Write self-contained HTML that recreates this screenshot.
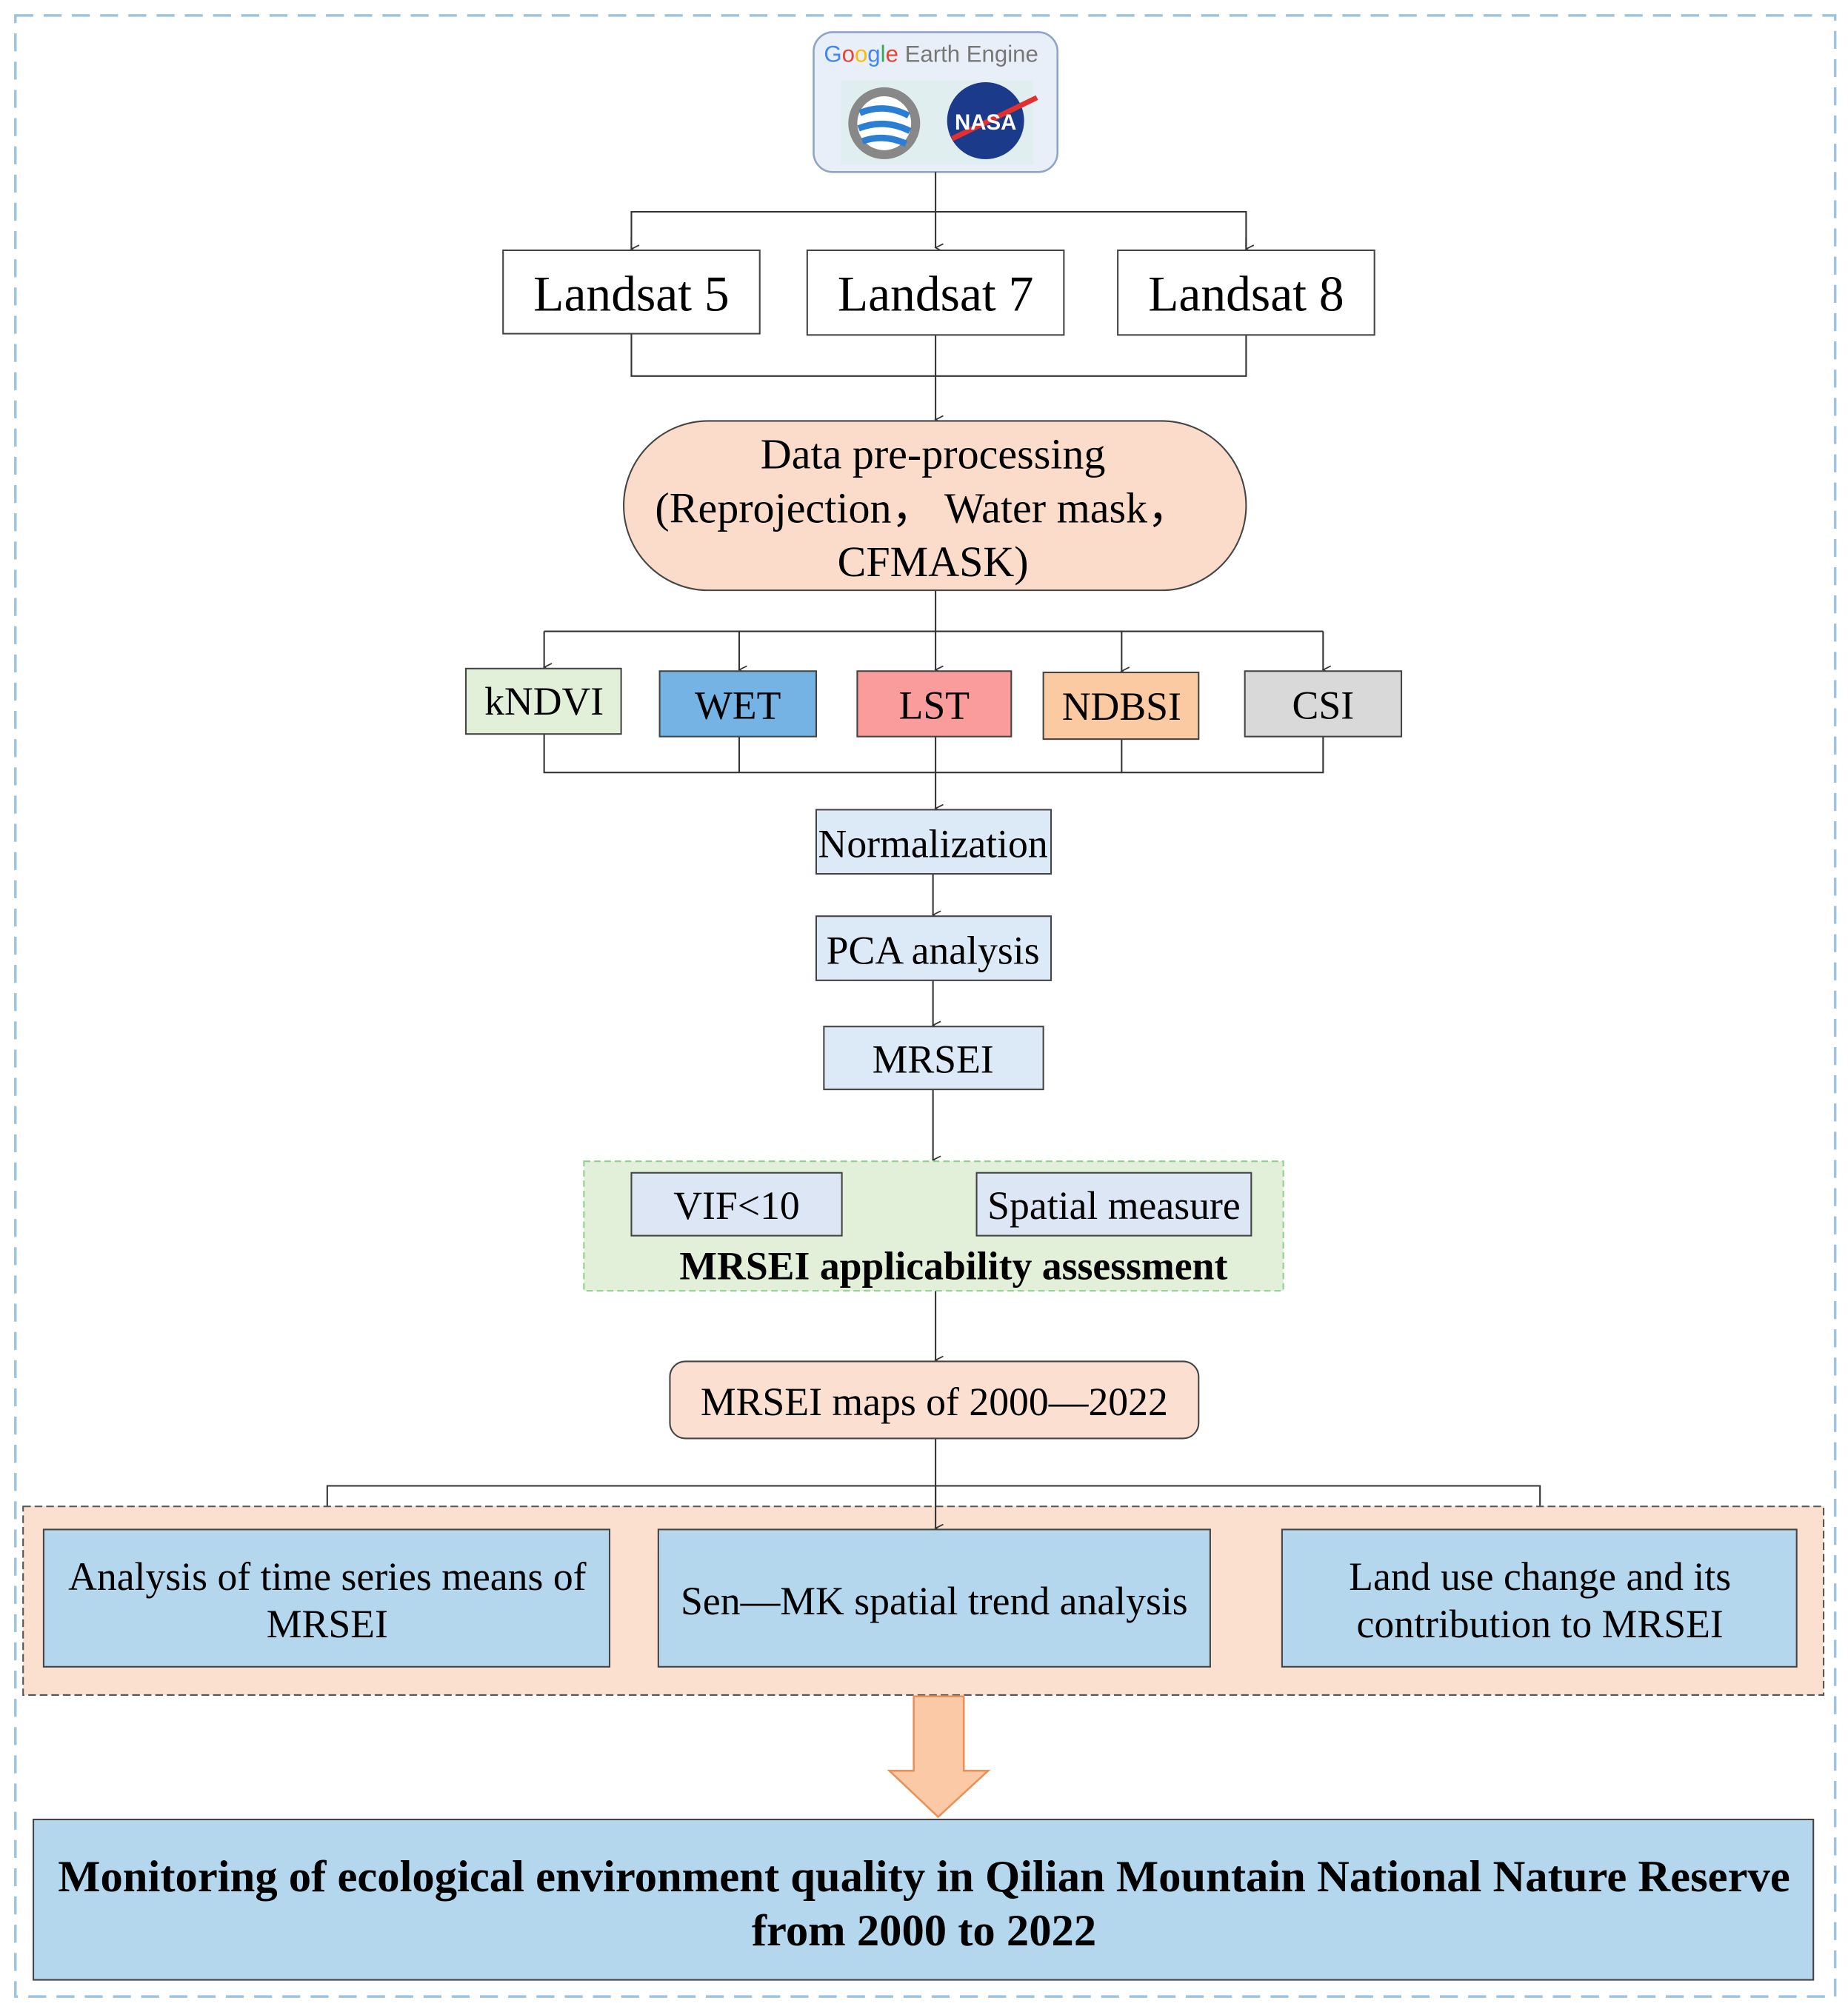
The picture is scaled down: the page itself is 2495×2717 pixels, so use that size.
<!DOCTYPE html>
<html><head><meta charset="utf-8"><style>html,body{margin:0;padding:0;background:#fff}svg{display:block}</style></head>
<body>
<svg width="2495" height="2717" viewBox="0 0 1440 1568" xmlns="http://www.w3.org/2000/svg" font-family="'Liberation Serif', serif">
<defs><marker id="a" markerWidth="8" markerHeight="8" refX="4" refY="7" orient="auto" markerUnits="userSpaceOnUse"><path d="M1,1 L4,7 L7,1" fill="none" stroke="#333" stroke-width="1"/></marker></defs>
<rect x="0" y="0" width="1440" height="1568" fill="#fff"/>
<rect x="12" y="12" width="1418" height="1544" fill="none" stroke="#9cc3e0" stroke-width="2" stroke-dasharray="14,8"/>
<rect x="634" y="25" width="190" height="109" rx="15" fill="#e9eff8" stroke="#8ea6c6" stroke-width="1.5"/>
<rect x="655" y="63" width="150" height="65" fill="#e0eef0"/>
<text x="642" y="48" font-family="'Liberation Sans',sans-serif" font-size="18"><tspan fill="#4285f4">G</tspan><tspan fill="#ea4335">o</tspan><tspan fill="#fbbc05">o</tspan><tspan fill="#4285f4">g</tspan><tspan fill="#34a853">l</tspan><tspan fill="#ea4335">e</tspan><tspan fill="#777"> Earth Engine</tspan></text>
<circle cx="689" cy="96" r="28" fill="#888"/>
<circle cx="689" cy="96" r="21" fill="#fff"/>
<path d="M670,88 Q689,80 708,90 M669,100 Q689,92 709,102 M672,110 Q689,104 706,112" stroke="#2a7fd4" stroke-width="5" fill="none"/>
<circle cx="768" cy="94" r="30" fill="#1b3a8a"/>
<path d="M742,108 L808,76" stroke="#e03030" stroke-width="4"/>
<text x="768" y="101" text-anchor="middle" font-family="'Liberation Sans',sans-serif" font-weight="bold" font-size="17" fill="#fff">NASA</text>
<g stroke="#333" stroke-width="1.2" fill="none">
<line x1="729" y1="134" x2="729" y2="193" marker-end="url(#a)"/>
<polyline points="492,193 492,165 971,165 971,193"/>
<line x1="492" y1="185" x2="492" y2="194" marker-end="url(#a)"/>
<line x1="971" y1="185" x2="971" y2="194" marker-end="url(#a)"/>
<polyline points="492,260 492,293 971,293 971,261"/>
<line x1="729" y1="261" x2="729" y2="327" marker-end="url(#a)"/>
<line x1="729" y1="460" x2="729" y2="492"/>
<line x1="424" y1="492" x2="1031" y2="492"/>
<line x1="424" y1="492" x2="424" y2="520" marker-end="url(#a)"/>
<line x1="576" y1="492" x2="576" y2="522" marker-end="url(#a)"/>
<line x1="729" y1="492" x2="729" y2="522" marker-end="url(#a)"/>
<line x1="874" y1="492" x2="874" y2="523" marker-end="url(#a)"/>
<line x1="1031" y1="492" x2="1031" y2="522" marker-end="url(#a)"/>
<polyline points="424,572 424,602 1031,602 1031,574"/>
<line x1="576" y1="574" x2="576" y2="602"/><line x1="874" y1="576" x2="874" y2="602"/>
<line x1="729" y1="574" x2="729" y2="630" marker-end="url(#a)"/>
<line x1="727" y1="681" x2="727" y2="713" marker-end="url(#a)"/>
<line x1="727" y1="764" x2="727" y2="799" marker-end="url(#a)"/>
<line x1="727" y1="849" x2="727" y2="904" marker-end="url(#a)"/>
<line x1="729" y1="1006" x2="729" y2="1060" marker-end="url(#a)"/>
<line x1="729" y1="1121" x2="729" y2="1191" marker-end="url(#a)"/>
<polyline points="255,1190 255,1158 1200,1158 1200,1190"/>
<line x1="255" y1="1180" x2="255" y2="1191" marker-end="url(#a)"/>
<line x1="1200" y1="1180" x2="1200" y2="1191" marker-end="url(#a)"/>
</g>
<g stroke="#444" stroke-width="1.2">
<rect x="392" y="195" width="200" height="65" fill="#fff"/>
<rect x="629" y="195" width="200" height="66" fill="#fff"/>
<rect x="871" y="195" width="200" height="66" fill="#fff"/>
<rect x="486" y="328" width="485" height="132" rx="66" fill="#fbdccb"/>
<rect x="363" y="521" width="121" height="51" fill="#e2f0d9"/>
<rect x="514" y="523" width="122" height="51" fill="#74b3e3"/>
<rect x="668" y="523" width="120" height="51" fill="#fa9c9c"/>
<rect x="813" y="524" width="121" height="52" fill="#fbc9a2"/>
<rect x="970" y="523" width="122" height="51" fill="#d9d9d9"/>
<rect x="636" y="631" width="183" height="50" fill="#dce9f6"/>
<rect x="636" y="714" width="183" height="50" fill="#dce9f6"/>
<rect x="642" y="800" width="171" height="49" fill="#dce9f6"/>
</g>
<rect x="455" y="905" width="545" height="101" fill="#e2f0d9" stroke="#8fd08f" stroke-width="1.2" stroke-dasharray="5,3"/>
<g stroke="#444" stroke-width="1.2">
<rect x="492" y="914" width="164" height="49" fill="#dce6f5"/>
<rect x="761" y="914" width="214" height="49" fill="#dce6f5"/>
<rect x="522" y="1061" width="412" height="60" rx="12" fill="#fbe0d2"/>
</g>
<rect x="18" y="1174" width="1403" height="147" fill="#fbe0d0" stroke="#555" stroke-width="1.2" stroke-dasharray="6,3"/>
<line x1="729" y1="1158" x2="729" y2="1191" stroke="#333" stroke-width="1.2" marker-end="url(#a)"/>
<g stroke="#444" stroke-width="1.2" fill="#b4d7ee">
<rect x="34" y="1192" width="441" height="107"/>
<rect x="513" y="1192" width="430" height="107"/>
<rect x="999" y="1192" width="401" height="107"/>
<rect x="26" y="1418" width="1387" height="125"/>
</g>
<path d="M712,1322 L751,1322 L751,1380 L770,1380 L731,1416 L693,1380 L712,1380 Z" fill="#fbc9a5" stroke="#e8915a" stroke-width="1.5"/>
<g fill="#000" text-anchor="middle">
<text x="492" y="242" font-size="39">Landsat 5</text>
<text x="729" y="242" font-size="39">Landsat 7</text>
<text x="971" y="242" font-size="39">Landsat 8</text>
<text x="727" y="365" font-size="33.5">Data pre-processing</text>
<text x="719" y="407" font-size="33.5">(Reprojection，  Water mask，</text>
<text x="727" y="449" font-size="33.5">CFMASK)</text>
<text x="424" y="557" font-size="31">kNDVI</text>
<text x="575" y="560" font-size="31">WET</text>
<text x="728" y="560" font-size="31">LST</text>
<text x="874" y="561" font-size="31">NDBSI</text>
<text x="1031" y="560" font-size="31">CSI</text>
<text x="727" y="668" font-size="31">Normalization</text>
<text x="727" y="751" font-size="31">PCA analysis</text>
<text x="727" y="836" font-size="31">MRSEI</text>
<text x="574" y="950" font-size="31">VIF&lt;10</text>
<text x="868" y="950" font-size="31">Spatial measure</text>
<text x="743" y="997" font-size="31" font-weight="bold">MRSEI applicability assessment</text>
<text x="728" y="1103" font-size="31">MRSEI maps of 2000—2022</text>
<text x="255" y="1239" font-size="31">Analysis of time series means of</text>
<text x="255" y="1276" font-size="31">MRSEI</text>
<text x="728" y="1258" font-size="31">Sen—MK spatial trend analysis</text>
<text x="1200" y="1239" font-size="31">Land use change and its</text>
<text x="1200" y="1276" font-size="31">contribution to MRSEI</text>
<text x="720" y="1474" font-size="35" font-weight="bold">Monitoring of ecological environment quality in Qilian Mountain National Nature Reserve</text>
<text x="720" y="1516" font-size="35" font-weight="bold">from 2000 to 2022</text>
</g>
</svg>
</body></html>
